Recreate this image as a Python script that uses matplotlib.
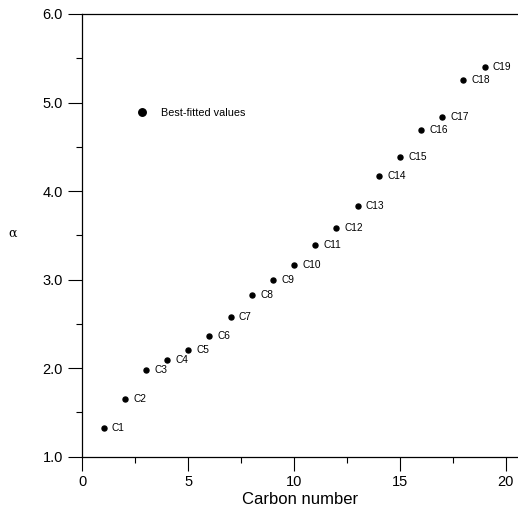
import matplotlib
matplotlib.use("Agg")
import matplotlib.pyplot as plt
from matplotlib.ticker import MultipleLocator, FormatStrFormatter

plt.rcParams["font.family"] = ["Liberation Sans", "DejaVu Sans"]

# best-fitted alpha per carbon number
carbon = [1, 2, 3, 4, 5, 6, 7, 8, 9, 10, 11, 12, 13, 14, 15, 16, 17, 18, 19]
alpha = [1.32, 1.65, 1.98, 2.09, 2.21, 2.36, 2.58, 2.83, 3.00, 3.17,
         3.39, 3.58, 3.83, 4.17, 4.39, 4.69, 4.84, 5.26, 5.40]
labels = [f"C{n}" for n in carbon]

fig = plt.figure(figsize=(5.18, 5.14), dpi=100)
ax = fig.add_axes([0.159, 0.1115, 0.841, 0.8613])

ax.plot(carbon, alpha, "o", color="black", markersize=3.6, linestyle="none",
        label="Best-fitted values")
for x, y, lab in zip(carbon, alpha, labels):
    ax.annotate(lab, (x, y), xytext=(6, 0), textcoords="offset points",
                fontsize=7.3, va="center", ha="left")

ax.set_xlim(0, 20.58)
ax.set_ylim(1.0, 6.0)
ax.xaxis.set_major_locator(MultipleLocator(5))
ax.xaxis.set_minor_locator(MultipleLocator(2.5))
ax.yaxis.set_major_locator(MultipleLocator(1))
ax.yaxis.set_minor_locator(MultipleLocator(0.5))
ax.yaxis.set_major_formatter(FormatStrFormatter("%.1f"))

ax.spines["right"].set_visible(False)
for s in ("top", "bottom", "left"):
    ax.spines[s].set_linewidth(0.9)

ax.tick_params(which="major", direction="out", length=10, width=0.8, labelsize=10.5)
ax.tick_params(which="minor", direction="out", length=4.5, width=0.8)
ax.tick_params(axis="x", which="major", pad=3)
ax.tick_params(axis="y", which="major", pad=4)

ax.set_xlabel("Carbon number", fontsize=12, labelpad=2)
ax.set_ylabel("\u03b1", fontsize=9, family="DejaVu Serif", rotation=0,
              labelpad=0)
ax.yaxis.set_label_coords(-0.16, 0.49)

ax.legend(loc="center left", bbox_to_anchor=(0.1, 0.777), frameon=False,
          fontsize=7.8, handletextpad=0.7, markerscale=1.5, borderpad=0)

fig.savefig("out.png", dpi=100)
